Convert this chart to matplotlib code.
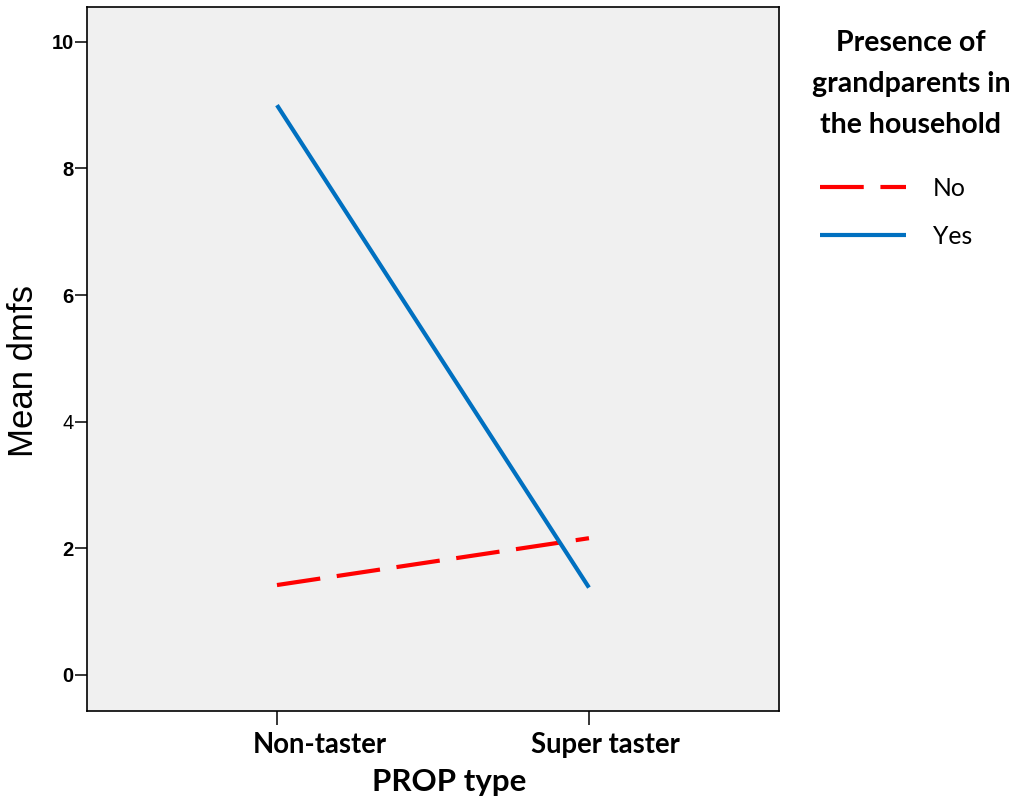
import matplotlib
matplotlib.use("Agg")
import matplotlib.pyplot as plt
from matplotlib.transforms import ScaledTranslation

# Mean dmfs by PROP taster type, split by grandparents in household
prop_types = ["Non-taster", "Super taster"]
series_names = ["No", "Yes"]
mean_no = [1.42, 2.16]
mean_yes = [9.00, 1.38]
y_ticks = [0, 2, 4, 6, 8, 10]

fig = plt.figure(figsize=(10.16, 7.99), dpi=100)
ax = fig.add_axes([0.0856, 0.1101, 0.6811, 0.8811])
ax.set_facecolor("#f0f0f0")

x = list(range(len(prop_types)))
ax.plot(x, mean_no, color="#ff0000", lw=3.0, dashes=(10.5, 4.0),
        solid_capstyle="butt", dash_capstyle="butt", label=series_names[0])
ax.plot(x, mean_yes, color="#0070c0", lw=3.0, solid_capstyle="butt",
        label=series_names[1])

ax.set_xlim(-0.609, 1.609)
ax.set_ylim(-0.57, 10.55)

for s in ax.spines.values():
    s.set_linewidth(1.2)
ax.tick_params(axis="y", length=8.5, width=1.1, pad=1)
ax.tick_params(axis="x", length=10, width=1.1, pad=5)

ax.set_xticks(x)
ax.set_xticklabels(prop_types, fontfamily="Lato", fontweight="bold", fontsize=19.8)
# category labels sit slightly right of their ticks
for lab, dx in zip(ax.get_xticklabels(), [43, 16]):
    lab.set_transform(lab.get_transform() + ScaledTranslation(dx / 100, 0, fig.dpi_scale_trans))

ax.set_yticks(y_ticks)
ax.set_yticklabels([str(t) for t in y_ticks], fontfamily="Liberation Sans",
                   fontweight="bold", fontsize=14.5)
for lab in ax.get_yticklabels():
    if lab.get_text() == "4":
        lab.set_fontweight("normal")

ax.set_ylabel("Mean dmfs", fontfamily="Liberation Sans", fontsize=25, labelpad=8)
ax.yaxis.label.set_y(0.483)
ax.set_xlabel("PROP type", fontfamily="Lato", fontweight="bold", fontsize=22.5,
              labelpad=7)
ax.xaxis.label.set_x(0.523)

# legend title
fig.text(911 / 1016, 1 - 84 / 799, "Presence of\ngrandparents in\nthe household",
         ha="center", va="center", multialignment="center",
         fontfamily="Lato", fontweight="bold", fontsize=20.5, linespacing=1.70)

leg = fig.legend(loc="upper left", bbox_to_anchor=(820 / 1016, 1 - 177 / 799),
                 frameon=False, prop={"family": "Lato", "size": 17.8},
                 handlelength=3.48, handletextpad=1.09, labelspacing=1.0,
                 borderaxespad=0, borderpad=0)

fig.savefig("out.png", dpi=100)
